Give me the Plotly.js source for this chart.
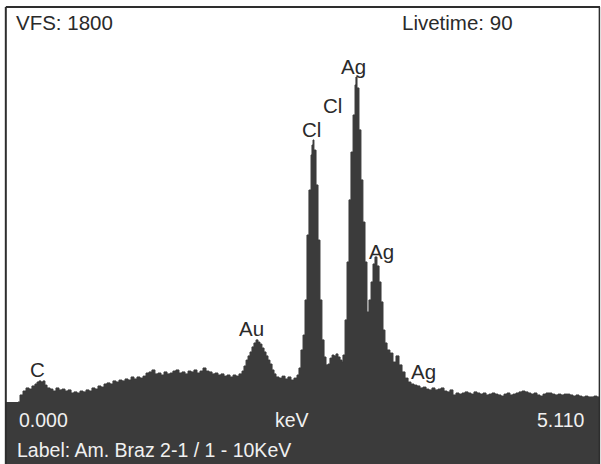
<!DOCTYPE html>
<html><head><meta charset="utf-8">
<script src="https://cdn.plot.ly/plotly-3.0.1.min.js"></script>
<style>html,body{margin:0;padding:0;background:#fff;}#chart{width:601px;height:464px;}</style>
</head><body><div id="chart"></div>
<script>
// Energy (keV) and counts
const energyKeV = [0.095,0.112,0.138,0.164,0.190,0.215,0.241,0.259,0.276,0.293,0.310,0.327,0.345,0.371,0.396,0.422,0.448,0.474,0.500,0.526,0.552,0.577,0.603,0.629,0.655,0.681,0.707,0.732,0.758,0.784,0.810,0.836,0.862,0.888,0.913,0.939,0.965,0.991,1.017,1.043,1.069,1.094,1.120,1.146,1.172,1.198,1.224,1.249,1.275,1.301,1.327,1.353,1.379,1.405,1.430,1.456,1.482,1.508,1.534,1.560,1.586,1.611,1.637,1.663,1.689,1.715,1.741,1.767,1.792,1.818,1.844,1.870,1.896,1.922,1.948,1.973,1.999,2.025,2.042,2.060,2.077,2.094,2.111,2.128,2.146,2.163,2.180,2.197,2.215,2.232,2.249,2.266,2.284,2.301,2.318,2.344,2.370,2.396,2.421,2.447,2.473,2.499,2.516,2.533,2.551,2.568,2.585,2.602,2.620,2.628,2.637,2.645,2.663,2.680,2.697,2.714,2.732,2.749,2.766,2.783,2.801,2.818,2.835,2.852,2.870,2.887,2.895,2.913,2.930,2.947,2.964,2.982,2.999,3.007,3.016,3.033,3.050,3.067,3.085,3.102,3.119,3.137,3.154,3.171,3.188,3.206,3.223,3.240,3.257,3.275,3.300,3.326,3.352,3.378,3.404,3.430,3.456,3.481,3.507,3.533,3.559,3.585,3.611,3.636,3.662,3.688,3.714,3.740,3.766,3.792,3.817,3.843,3.869,3.895,3.921,3.947,3.973,3.998,4.024,4.050,4.076,4.102,4.128,4.153,4.179,4.205,4.231,4.257,4.283,4.309,4.334,4.360,4.386,4.412,4.438,4.464,4.490,4.515,4.541,4.567,4.593,4.619,4.645,4.671,4.696,4.722,4.748,4.774,4.800,4.826,4.851,4.877,4.903,4.929,4.955,4.981,5.007,5.032,5.058,5.084,5.110];
const counts = [0,32,50,64,59,73,82,91,96,91,96,77,64,59,50,64,55,59,50,55,41,46,41,50,46,55,50,64,59,73,68,82,87,82,96,91,100,96,105,100,114,105,114,109,118,132,137,146,128,132,123,137,128,132,141,146,132,137,128,141,137,146,132,141,155,141,137,128,132,123,128,118,123,114,123,118,128,141,164,191,210,228,251,269,283,273,264,246,228,210,191,173,146,128,114,109,118,105,114,100,109,123,155,237,305,465,761,966,1126,1171,1194,1148,989,738,465,283,205,169,173,200,214,210,219,205,191,182,214,374,638,921,1139,1308,1445,1481,1431,1240,1012,820,638,410,465,547,629,661,620,547,456,328,269,237,223,182,210,169,137,109,91,82,77,73,64,68,59,55,64,55,59,64,50,46,55,32,41,36,41,46,41,36,46,41,36,41,32,36,41,36,32,27,36,41,32,36,41,46,50,46,41,36,41,32,27,36,41,41,36,32,36,32,36,36,32,27,32,27,23,27,23,23,27,23,23];

// Peak labels
const peakLabels = ['C','Au','Cl','Cl','Ag','Ag','Ag'];
const peakKeV = [0.267,2.111,2.620,2.809,2.982,3.223,3.585];
const peakCounts = [150,337,1240,1349,1531,688,137];

// Header / footer texts
const vfsText = 'VFS: 1800';
const liveText = 'Livetime: 90';
const axisStart = '0.000';
const axisUnit = 'keV';
const axisEnd = '5.110';
const labelText = 'Label: Am. Braz 2-1 / 1 - 10KeV';

const fam = '"Liberation Sans", Arial, Helvetica, sans-serif';
const dark = '#3b3b3b';

const trace = {
  type: 'scatter', mode: 'lines', x: energyKeV, y: counts,
  line: {shape: 'hv', color: dark, width: 1}, fill: 'tozeroy', fillcolor: dark,
  hoverinfo: 'skip'
};

const ann = [];
peakLabels.forEach((t, i) => ann.push({x: peakKeV[i], y: peakCounts[i], xref: 'x', yref: 'y', text: t,
  showarrow: false, font: {family: fam, size: 20.5, color: '#2a2a2a'}, xanchor: 'center', yanchor: 'middle'}));
const pa = (text, x, y, xa, color, sz) => ({x: x, y: y, xref: 'paper', yref: 'paper', text: text, showarrow: false,
  xanchor: xa, yanchor: 'middle', font: {family: fam, size: sz, color: color}});
ann.push(pa(vfsText, 0.0118, 0.9595, 'left', '#2a2a2a', 20.5));
ann.push(pa(liveText, 0.6627, 0.9595, 'left', '#2a2a2a', 20.5));
ann.push(pa(axisStart, 0.0169, -0.0456, 'left', '#f0f0f0', 19.5));
ann.push(pa(axisUnit, 0.4806, -0.0456, 'center', '#f0f0f0', 19.5));
ann.push(pa(axisEnd, 0.978, -0.0456, 'right', '#f0f0f0', 19.5));
ann.push(pa(labelText, 0.0135, -0.1215, 'left', '#f0f0f0', 19.5));

const layout = {
  width: 601, height: 464,
  margin: {l: 7, r: 1, t: 7, b: 62, pad: 0},
  paper_bgcolor: '#ffffff', plot_bgcolor: '#ffffff',
  showlegend: false,
  xaxis: {range: [0, 5.11], showgrid: false, zeroline: false, showticklabels: false, ticks: '', showline: false, fixedrange: true},
  yaxis: {range: [0, 1800], showgrid: false, zeroline: false, showticklabels: false, ticks: '', showline: false, fixedrange: true},
  shapes: [
    {type: 'rect', xref: 'paper', yref: 'paper', x0: -0.002, x1: 1.0, y0: -0.157, y1: 0, fillcolor: dark, line: {width: 0}, layer: 'below'},
    {type: 'line', xref: 'paper', yref: 'paper', x0: -0.002, x1: 1.0, y0: 1, y1: 1, line: {color: '#2e2e2e', width: 2}},
    {type: 'line', xref: 'paper', yref: 'paper', x0: -0.002, x1: -0.002, y0: -0.157, y1: 1, line: {color: '#2e2e2e', width: 2}},
    {type: 'line', xref: 'paper', yref: 'paper', x0: 0.999, x1: 0.999, y0: -0.157, y1: 1, line: {color: '#2e2e2e', width: 1.5}}
  ],
  annotations: ann
};

Plotly.newPlot('chart', [trace], layout, {staticPlot: true, displayModeBar: false});
</script></body></html>
